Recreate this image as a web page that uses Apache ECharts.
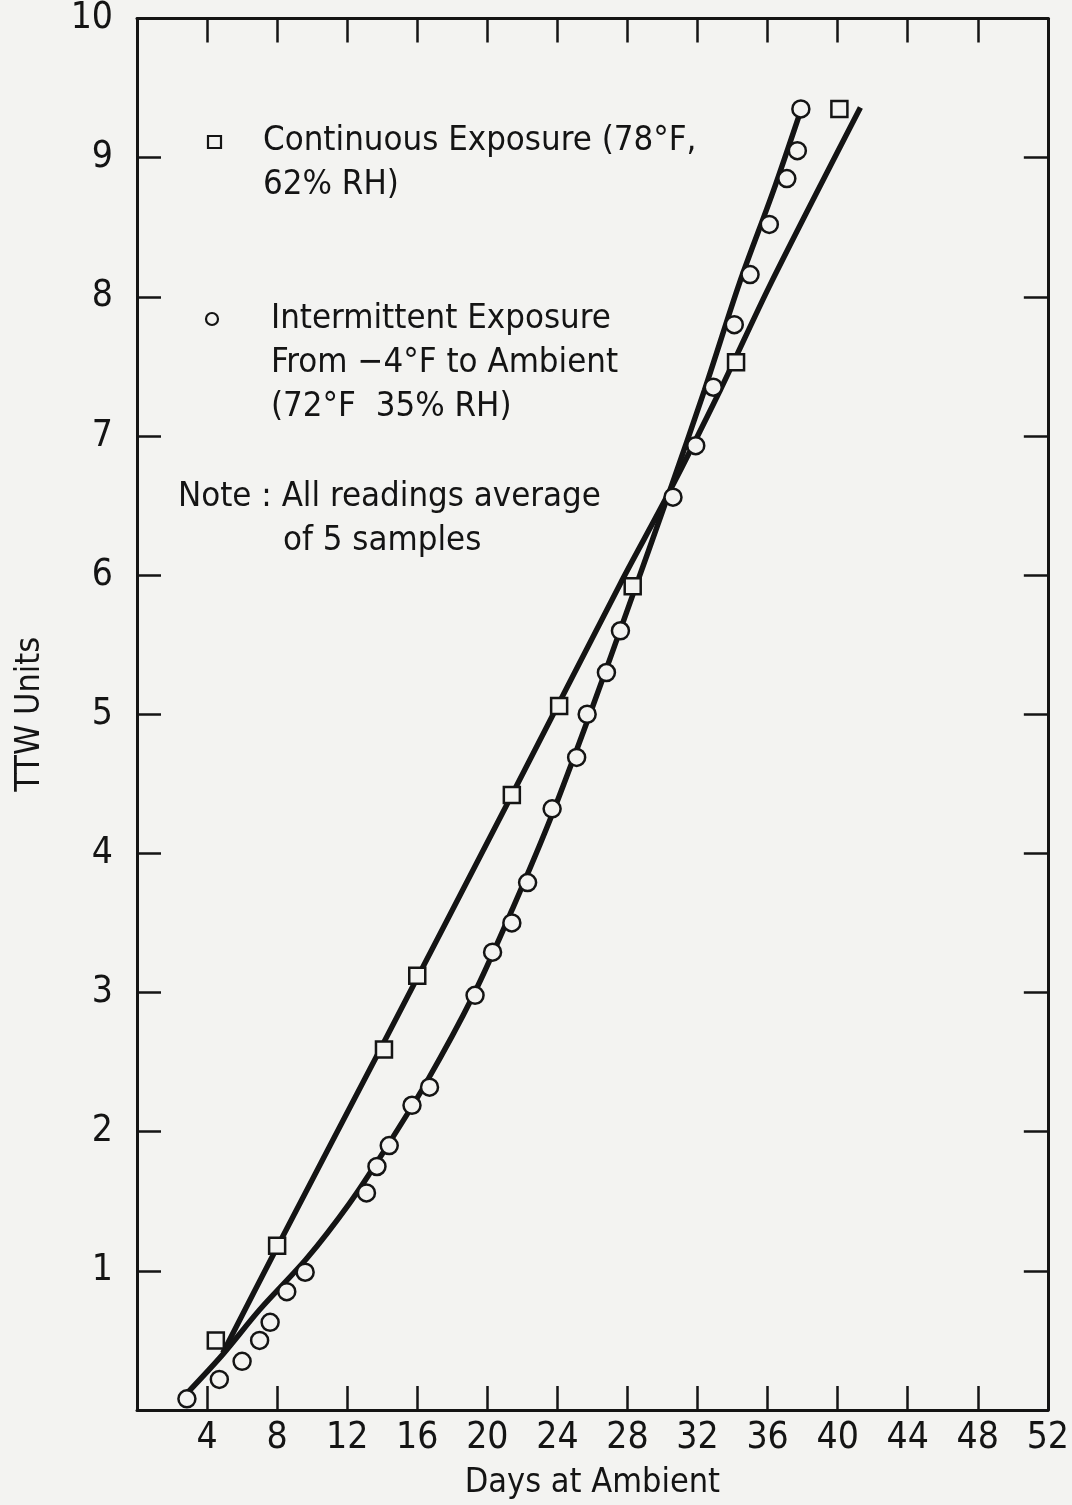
<!DOCTYPE html>
<html>
<head>
<meta charset="utf-8">
<script src="https://cdn.jsdelivr.net/npm/echarts@6/dist/echarts.min.js"></script>
<style>
  html, body { margin: 0; padding: 0; background: #f3f3f1; }
  #chart { width: 1072px; height: 1505px; }
</style>
</head>
<body>
<div id="chart"></div>
<script>
// Continuous exposure (78°F, 62% RH): measured points
const contDays = [4.5, 8.0, 14.1, 16.0, 21.4, 24.1, 28.3, 34.2, 40.1];
const contTTW  = [0.50, 1.18, 2.59, 3.12, 4.42, 5.06, 5.92, 7.53, 9.35];

// Continuous exposure: fitted curve
const contFitDays = [4.9, 8.0, 14.0, 21.4, 27.6, 30.4, 33.3, 36.2, 41.3];
const contFitTTW  = [0.41, 1.17, 2.62, 4.42, 5.94, 6.60, 7.33, 8.10, 9.36];

// Intermittent exposure from -4°F to ambient (72°F, 35% RH): measured points
const intDays = [2.85, 4.7, 6.0, 7.0, 7.6, 8.55, 9.6, 13.1, 13.7, 14.4, 15.7, 16.7,
                 19.3, 20.3, 21.4, 22.3, 23.7, 25.1, 25.7, 26.8, 27.6,
                 30.6, 31.9, 32.9, 34.1, 35.0, 36.1, 37.1, 37.7, 37.9];
const intTTW  = [0.08, 0.22, 0.35, 0.50, 0.63, 0.85, 0.99, 1.56, 1.75, 1.90, 2.19, 2.32,
                 2.98, 3.29, 3.50, 3.79, 4.32, 4.69, 5.00, 5.30, 5.60,
                 6.56, 6.93, 7.35, 7.80, 8.16, 8.52, 8.85, 9.05, 9.35];

// Intermittent exposure: fitted curve
const intFitDays = [2.85, 4.9, 7.0, 9.7, 12.1, 14.0, 16.5, 19.2, 21.5, 23.7, 26.0, 28.0, 30.4, 32.4, 34.4, 36.3, 37.9];
const intFitTTW  = [0.12, 0.40, 0.72, 1.09, 1.48, 1.84, 2.35, 2.98, 3.62, 4.28, 5.05, 5.75, 6.60, 7.33, 8.10, 8.75, 9.34];

// Axis ranges and tick spacing
const xRange = { min: 0, max: 52, step: 4 };
const yRange = { min: 0, max: 10, step: 1 };

const xTitle = 'Days at Ambient';
const yTitle = 'TTW Units';

const legendLines = {
  cont: ['Continuous Exposure (78°F,', '62% RH)'],
  inter: ['Intermittent Exposure', 'From −4°F to Ambient', '(72°F  35% RH)'],
  note: ['Note : All readings average', 'of 5 samples']
};

const FONT = "'Liberation Sans Narrow', 'DejaVu Sans Condensed', 'Arial Narrow', sans-serif";
const INK = '#141414';
const BG = '#f3f3f1';

const zip = (xs, ys) => xs.map((x, i) => [x, ys[i]]);

const frameLine = { show: true, onZero: false, lineStyle: { color: INK, width: 3 } };
const innerTick = { show: true, inside: true, length: 24, lineStyle: { color: INK, width: 2.5 } };

function axisPair(range, isX) {
  const base = {
    type: 'value', min: range.min, max: range.max, interval: range.step,
    splitLine: { show: false }, axisLine: frameLine, axisTick: innerTick
  };
  const main = Object.assign({}, base, {
    position: isX ? 'bottom' : 'left',
    axisLabel: {
      show: true, color: INK, fontFamily: FONT, fontSize: 37,
      margin: isX ? 10 : 24,
      formatter: v => (v === 0 ? '' : String(v))
    },
    name: isX ? xTitle : yTitle,
    nameLocation: 'middle',
    nameGap: isX ? 56 : 90,
    nameTextStyle: { color: INK, fontFamily: FONT, fontSize: 34 }
  });
  const opposite = Object.assign({}, base, {
    position: isX ? 'top' : 'right',
    axisLabel: { show: false }
  });
  return [main, opposite];
}

function textBlock(lines, x, y0, dy) {
  return lines.map((t, i) => ({
    type: 'text', x: x, y: y0 + i * dy,
    style: { text: t, fill: INK, font: '34.5px ' + FONT, verticalAlign: 'middle', align: 'left' }
  }));
}

const chart = echarts.init(document.getElementById('chart'), null, { renderer: 'canvas' });

chart.setOption({
  backgroundColor: BG,
  animation: false,
  grid: { left: 137, right: 22, top: 18, bottom: 93, containLabel: false },
  xAxis: axisPair(xRange, true),
  yAxis: axisPair(yRange, false),
  graphic: [
    { type: 'rect', shape: { x: 208, y: 136, width: 13, height: 12 },
      style: { fill: BG, stroke: INK, lineWidth: 2.2 } },
    { type: 'circle', shape: { cx: 212, cy: 319, r: 6 },
      style: { fill: BG, stroke: INK, lineWidth: 2.2 } }
  ].concat(
    textBlock(legendLines.cont, 263, 141, 44),
    textBlock(legendLines.inter, 271, 319, 44),
    textBlock(legendLines.note.slice(0, 1), 178, 497, 44),
    textBlock(legendLines.note.slice(1), 283, 541, 44)
  ),
  series: [
    {
      name: 'Continuous fit', type: 'line', smooth: 0.3, showSymbol: false,
      data: zip(contFitDays, contFitTTW),
      lineStyle: { color: INK, width: 5.5 }, z: 2
    },
    {
      name: 'Intermittent fit', type: 'line', smooth: 0.3, showSymbol: false,
      data: zip(intFitDays, intFitTTW),
      lineStyle: { color: INK, width: 5.5 }, z: 2
    },
    {
      name: 'Continuous Exposure', type: 'scatter', symbol: 'rect', symbolSize: 16,
      data: zip(contDays, contTTW),
      itemStyle: { color: BG, borderColor: INK, borderWidth: 2.5, opacity: 1 }, z: 5
    },
    {
      name: 'Intermittent Exposure', type: 'scatter', symbol: 'circle', symbolSize: 17,
      data: zip(intDays, intTTW),
      itemStyle: { color: BG, borderColor: INK, borderWidth: 2.5, opacity: 1 }, z: 5
    }
  ]
});
</script>
</body>
</html>
